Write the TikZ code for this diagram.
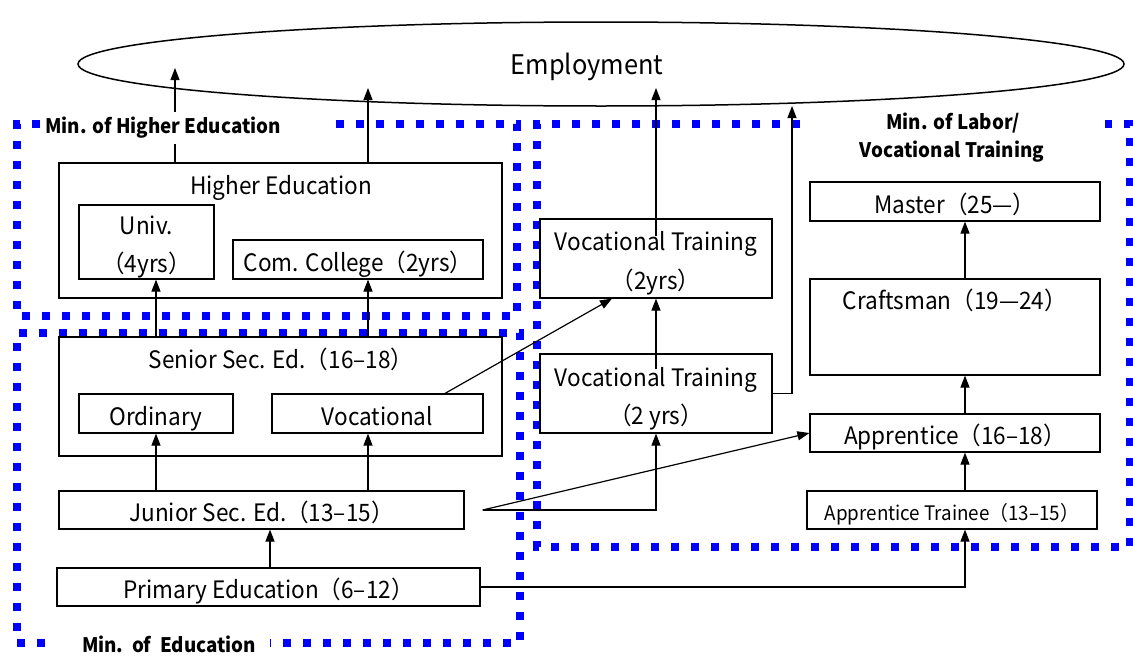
\documentclass[tikz,border=0pt]{standalone}
\usepackage{fontspec}
\setmainfont{Noto Sans CJK JP}[FakeStretch=0.94]
\usetikzlibrary{arrows.meta,shapes.geometric,calc}
\begin{document}
\begin{tikzpicture}[x=1pt,y=-1pt,
  box/.style={draw, line width=1.2pt, inner sep=0pt, font=\fontsize{24}{28}\selectfont, text height=23pt, text depth=0pt},
  smallbox/.style={box, font=\fontsize{20}{24}\selectfont, text height=20pt},
  txt/.style={inner sep=0pt, anchor=base, font=\fontsize{24}{28}\selectfont},
  arr/.style={line width=1.2pt, -{Triangle[length=12pt,width=9pt]}},
  ministry/.style={draw=blue, line width=7.5pt, dash pattern=on 8pt off 12pt},
  mlabel/.style={font=\fontsize{20}{24}\selectfont\bfseries, anchor=base, inner sep=0pt},
]
\useasboundingbox (0,0) rectangle (1133,656);

% ministry borders
\draw[ministry] (40,124) -- (17,124) -- (17,316) -- (517,316) -- (517,124) -- (335,124);
\draw[ministry] (45,643) -- (17,643) -- (17,333) -- (520,333) -- (520,643) -- (270,643);
\draw[ministry] (800,124) -- (537,124) -- (537,547) -- (1130,547) -- (1130,124) -- (1105,124);

% employment
\node[draw, ellipse, line width=1.5pt, minimum width=1046pt, minimum height=84pt, inner sep=0pt] (emp) at (601,64) {};
\node[txt, font=\fontsize{27}{32}\selectfont] (empt) at (587,74) {Employment};

% boxes
\node[box, minimum width=443pt, minimum height=135pt] (he) at (280.5,230.5) {};
\node[txt] (het) at (281,194) {Higher Education};
\node[box, minimum width=135pt, minimum height=74pt] (univ) at (146.5,242) {};
\node[txt] (univa) at (146.5,234) {Univ.};
\node[txt] (univb) at (146.5,272) {（4yrs）};
\node[box, minimum width=250pt, minimum height=39pt] (cc) at (358,259.5) {Com. College（2yrs）};

\node[box, minimum width=443pt, minimum height=119pt] (ss) at (280.5,396.5) {};
\node[txt] (sst) at (281,368) {Senior Sec. Ed.（16–18）};
\node[box, minimum width=154pt, minimum height=39pt] (ord) at (156,413.5) {Ordinary};
\node[box, minimum width=211pt, minimum height=39pt] (voc) at (377.5,413.5) {Vocational};
\node[box, minimum width=405pt, minimum height=38pt] (js) at (261.5,510) {Junior Sec. Ed.（13–15）};
\node[box, minimum width=423pt, minimum height=38pt] (pe) at (268.5,587) {Primary Education（6–12）};

\node[box, minimum width=232pt, minimum height=79pt] (vt1) at (656,258.5) {};
\node[txt] (vt1a) at (656,250) {Vocational Training};
\node[txt] (vt1b) at (656,289) {（2yrs）};
\node[box, minimum width=232pt, minimum height=79pt] (vt2) at (656,393.5) {};
\node[txt] (vt2a) at (656,386) {Vocational Training};
\node[txt] (vt2b) at (656,424) {（2 yrs）};

\node[box, minimum width=290pt, minimum height=39pt] (master) at (955,201.5) {Master（25—）};
\node[box, minimum width=290pt, minimum height=96pt] (craft) at (955,327) {};
\node[txt] (craftt) at (955,309) {Craftsman（19—24）};
\node[box, minimum width=290pt, minimum height=38pt] (appr) at (955,433) {Apprentice（16–18）};
\node[smallbox, minimum width=290pt, minimum height=38pt] (trainee) at (952,510) {Apprentice Trainee（13–15）};

% helper coordinates
\coordinate (xa) at (156,0);
\coordinate (xb) at (368,0);
\coordinate (xc) at (270,0);
\coordinate (xd) at (965,0);
\coordinate (xe) at (175,0);
\coordinate (xf) at (445,0);
\coordinate (xg) at (612,0);
\coordinate (emp1) at (175,68);
\coordinate (emp2) at (368,88);
\coordinate (emp3) at (656,88);
\coordinate (emp4) at (792,106);
\coordinate (jsr) at ($(js.east)+(18,0)$);

% connectors
\draw[arr] (he.north -| xe) -- (emp1);
\draw[arr] (he.north -| xb) -- (emp2);
\draw[arr] (ss.north -| xa) -- (univ.south -| xa);
\draw[arr] (ss.north -| xb) -- (cc.south -| xb);
\draw[arr] (js.north -| xa) -- (ord.south -| xa);
\draw[arr] (js.north -| xb) -- (voc.south -| xb);
\draw[arr] (pe.north -| xc) -- (js.south -| xc);
\draw[arr] (voc.north -| xf) -- (vt1.south -| xg);
\draw[arr] (jsr) -- (appr.west);
\draw[arr] (jsr) -| (vt2.south);
\draw[arr] ($(vt2.north)+(0,16)$) -- (vt1.south);
\draw[arr] ($(vt1.north)+(0,18)$) -- (emp3);
\draw[arr] (vt2.east) -| (emp4);
\draw[arr] (craft.north -| xd) -- (master.south -| xd);
\draw[arr] (appr.north -| xd) -- (craft.south -| xd);
\draw[arr] (trainee.north -| xd) -- (appr.south -| xd);
\draw[arr] (pe.east) -| (trainee.south -| xd);

% ministry labels
\node[mlabel, fill=white, text height=14pt, text depth=4pt, inner ysep=7pt, inner xsep=3pt] (lhe) at (163,133) {Min. of Higher Education};
\node[mlabel] (led) at (169,652) {Min.\ \ of\ \ Education};
\node[mlabel] (llab1) at (953,129) {Min. of Labor/};
\node[mlabel] (llab2) at (952,157) {Vocational Training};
\end{tikzpicture}
\end{document}
